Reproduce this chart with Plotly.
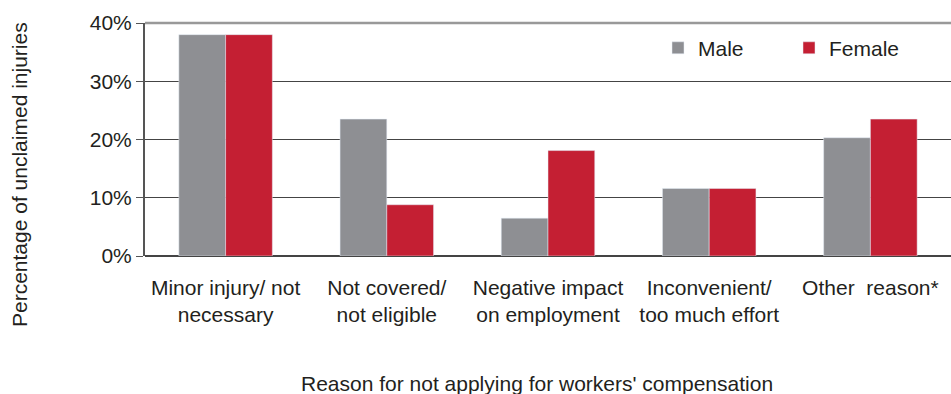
import plotly.graph_objects as go

categories = ["Minor injury/ not<br>necessary", "Not covered/<br>not eligible",
              "Negative impact<br>on employment", "Inconvenient/<br>too much effort",
              "Other\u00a0 reason*"]
male = [0.38, 0.235, 0.065, 0.116, 0.203]
female = [0.38, 0.088, 0.181, 0.116, 0.235]
y_ticks = [0, 0.1, 0.2, 0.3, 0.4]
y_tick_labels = ["0%", "10%", "20%", "30%", "40%"]

FONT = "Liberation Sans, Arial, sans-serif"
TXT = "#231f20"
FS = 21
PW = 951 - 145

fig = go.Figure()
fig.add_trace(go.Bar(name="Male", x=categories, y=male, marker_color="#8e8f93"))
fig.add_trace(go.Bar(name="Female", x=categories, y=female, marker_color="#c41f33"))

fig.update_layout(
    width=951, height=394,
    margin=dict(l=145, r=0, t=23, b=138, autoexpand=False),
    paper_bgcolor="white", plot_bgcolor="white",
    barmode="group", bargap=0.42, bargroupgap=0,
    font=dict(family=FONT, size=FS, color=TXT),
    showlegend=True,
    legend=dict(orientation="h", x=(658 - 145) / PW, y=0.98, xanchor="left", yanchor="top",
                font=dict(size=FS, color=TXT), bgcolor="rgba(0,0,0,0)",
                itemwidth=30, traceorder="normal", entrywidthmode="pixels", entrywidth=86),
    xaxis=dict(showgrid=False, showline=False, ticks="", zeroline=False,
               ticklabelstandoff=17,
               tickfont=dict(size=FS, color=TXT)),
    yaxis=dict(range=[0, 0.4], tickvals=y_ticks, ticktext=y_tick_labels,
               showgrid=True, gridcolor="#444", gridwidth=1,
               showline=True, linecolor="#555", linewidth=2,
               ticks="outside", ticklen=7, tickcolor="#555", tickwidth=1,
               zeroline=True, zerolinecolor="#444", zerolinewidth=1.5,
               tickfont=dict(size=FS, color=TXT)),
    annotations=[
        dict(text="Percentage of unclaimed injuries", xref="paper", yref="paper",
             x=-(145 - 19) / PW, y=(256 - 175) / 233, textangle=-90, showarrow=False,
             xanchor="center", yanchor="middle", font=dict(size=FS, color=TXT)),
        dict(text="Reason for not applying for workers' compensation", xref="paper", yref="paper",
             x=(537 - 145) / PW, y=-(383 - 256) / 233, showarrow=False,
             xanchor="center", yanchor="middle", font=dict(size=FS, color=TXT)),
    ],
    shapes=[dict(type="line", xref="paper", yref="paper", x0=0, x1=1, y0=1, y1=1,
                 line=dict(color="#999", width=2.5))],
)

fig.write_html("out.html")
